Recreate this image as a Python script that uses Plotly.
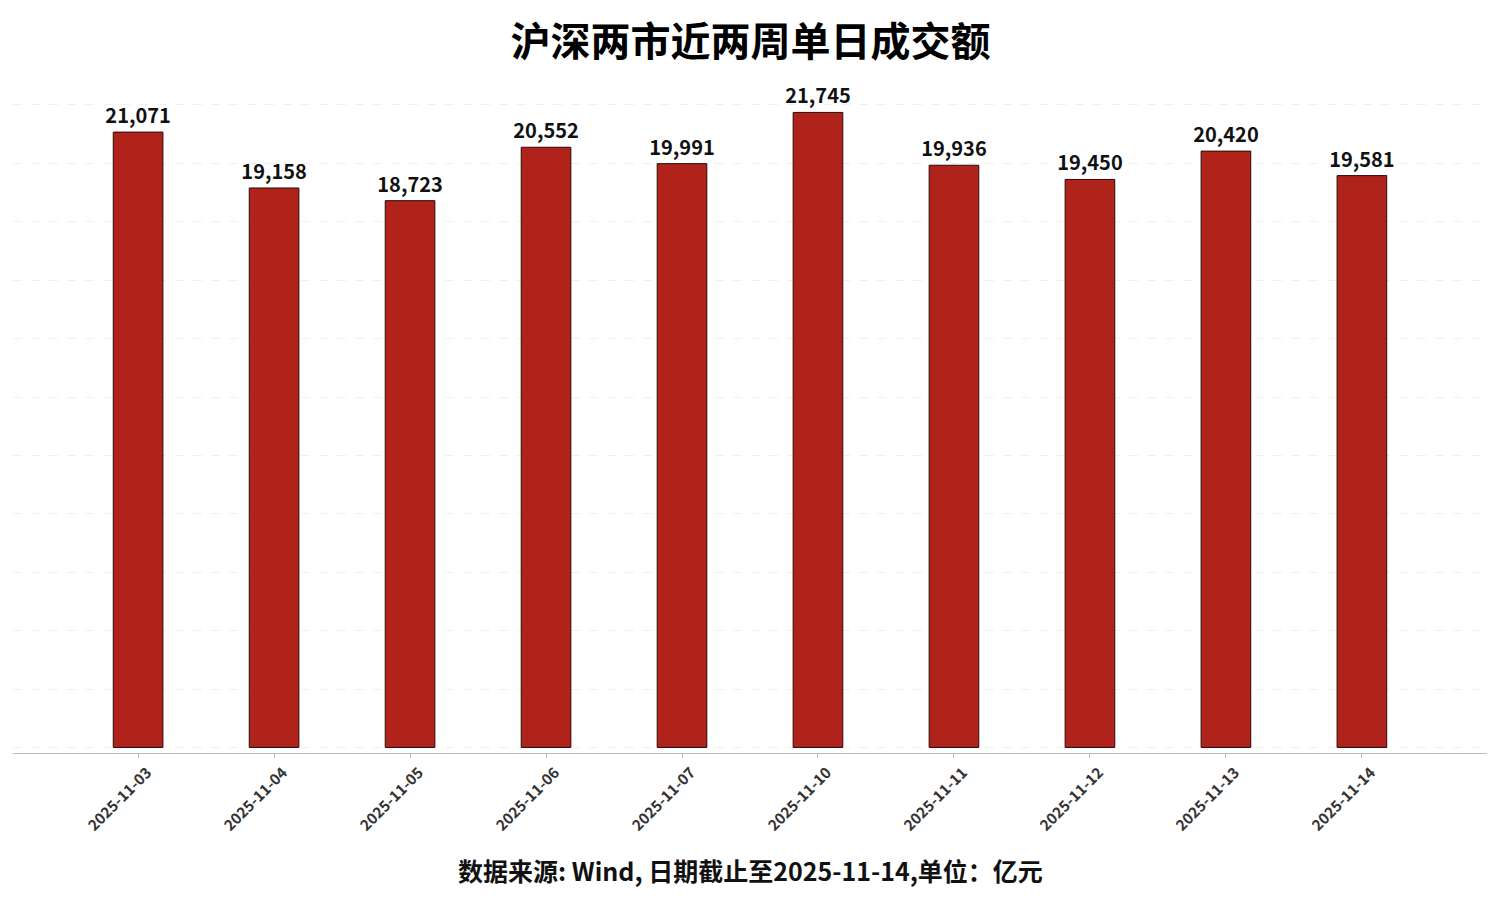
import plotly.graph_objects as go

dates = ["2025-11-03", "2025-11-04", "2025-11-05", "2025-11-06", "2025-11-07",
         "2025-11-10", "2025-11-11", "2025-11-12", "2025-11-13", "2025-11-14"]
turnover = [21071, 19158, 18723, 20552, 19991, 21745, 19936, 19450, 20420, 19581]

title_text = "沪深两市近两周单日成交额"
source_text = "数据来源: Wind, 日期截止至2025-11-14,单位：亿元"

FONT = "Noto Sans CJK SC"

fig = go.Figure()
fig.add_trace(go.Bar(
    x=dates, y=turnover,
    width=0.365,
    marker=dict(color="#B0231A", line=dict(color="#2a0a08", width=1)),
    text=[f"<b>{v:,}</b>" for v in turnover],
    textposition="outside",
    constraintext="none",
    textfont=dict(family=FONT, size=20, color="#111111"),
    cliponaxis=False,
))

fig.update_layout(
    width=1500, height=900,
    paper_bgcolor="white", plot_bgcolor="white",
    margin=dict(l=5, r=21, t=85, b=155),
    title=dict(text=f"<b>{title_text}</b>", x=0.495, xanchor="center",
               y=0.962, yanchor="middle",
               font=dict(family=FONT, size=40, color="#000000")),
    showlegend=False,
    font=dict(family=FONT),
    annotations=[dict(
        text=f"<b>{source_text}</b>", xref="paper", yref="paper",
        x=0.5, y=-0.178, xanchor="center", yanchor="middle", showarrow=False,
        font=dict(family=FONT, size=25, color="#111111"),
    )],
)

fig.update_xaxes(
    type="category", range=[-0.92, 9.92],
    showline=True, linecolor="#bbbbbb", linewidth=1,
    ticks="outside", ticklen=4, tickcolor="#bbbbbb",
    tickangle=-45, ticklabelshift=9,
    tickfont=dict(family=FONT, size=15, color="#333333", weight="bold"),
    showgrid=False,
)
fig.update_yaxes(
    range=[-190, 22410], dtick=2000, tick0=0,
    showticklabels=False, zeroline=False,
    showgrid=True, gridcolor="#f0f0f0", griddash="dash", gridwidth=1,
)

fig.write_html("out.html")
